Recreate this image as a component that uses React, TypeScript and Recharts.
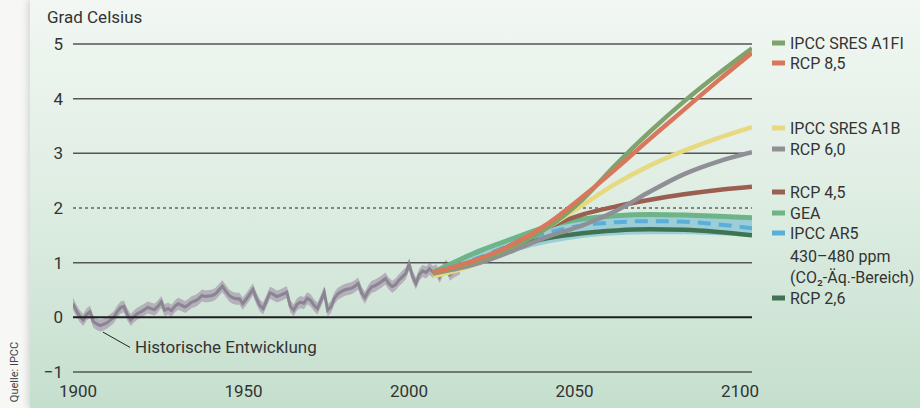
import { Area, ComposedChart, Line, ReferenceLine, XAxis, YAxis } from "recharts";

// Temperaturabweichung, Grad Celsius
const HIST_START = 1900;
const HIST_VALUES = [
  0.25, 0.12, 0.02, -0.05, 0.05, 0.1, -0.08, -0.12, -0.15, -0.13,
  -0.1, -0.05, 0.0, 0.1, 0.18, 0.2, 0.05, -0.05, 0.02, 0.07,
  0.1, 0.14, 0.18, 0.16, 0.14, 0.2, 0.28, 0.13, 0.16, 0.12,
  0.2, 0.25, 0.22, 0.19, 0.23, 0.28, 0.3, 0.34, 0.4, 0.38,
  0.39, 0.4, 0.43, 0.5, 0.57, 0.48, 0.4, 0.36, 0.34, 0.34,
  0.25, 0.33, 0.42, 0.51, 0.35, 0.22, 0.16, 0.3, 0.45, 0.42,
  0.38, 0.4, 0.43, 0.46, 0.2, 0.13, 0.24, 0.28, 0.26, 0.35,
  0.31, 0.22, 0.16, 0.3, 0.46, 0.13, 0.19, 0.35, 0.43, 0.47,
  0.5, 0.52, 0.53, 0.57, 0.62, 0.45, 0.36, 0.48, 0.56, 0.58,
  0.62, 0.66, 0.71, 0.62, 0.56, 0.6, 0.68, 0.74, 0.8, 0.97,
  0.75, 0.62, 0.78, 0.85, 0.82, 0.89, 0.83, 0.86, 0.74, 0.88,
  0.95, 0.78, 0.83, 0.86, 0.9,
];
const HIST_UNCERT = 0.11;

const SCEN_YEARS = [2006, 2020, 2030, 2040, 2050, 2060, 2070, 2080, 2090, 2100];
const A1FI = [0.8, 1.05, 1.3, 1.65, 2.15, 2.8, 3.4, 3.95, 4.45, 4.92];
const RCP85 = [0.82, 1.08, 1.35, 1.72, 2.2, 2.72, 3.27, 3.8, 4.33, 4.84];
const A1B = [0.75, 1.0, 1.3, 1.65, 2.05, 2.45, 2.78, 3.05, 3.28, 3.48];
const RCP60 = [0.8, 1.0, 1.23, 1.48, 1.68, 1.95, 2.3, 2.62, 2.85, 3.02];
const RCP45 = [0.8, 1.05, 1.35, 1.65, 1.88, 2.03, 2.15, 2.25, 2.33, 2.39];
const GEA = [0.82, 1.22, 1.45, 1.67, 1.8, 1.86, 1.88, 1.87, 1.85, 1.82];
const AR5 = [0.8, 1.1, 1.35, 1.55, 1.68, 1.74, 1.76, 1.75, 1.7, 1.63];
const AR5_LOW = [0.78, 1.0, 1.2, 1.35, 1.45, 1.5, 1.52, 1.52, 1.5, 1.48];
const AR5_HIGH = [0.85, 1.22, 1.48, 1.68, 1.82, 1.88, 1.9, 1.88, 1.85, 1.8];
const RCP26 = [0.8, 1.05, 1.3, 1.45, 1.54, 1.59, 1.61, 1.6, 1.56, 1.5];

const X_TICKS = [1900, 1950, 2000, 2050, 2100];
const Y_TICKS = [-1, 0, 1, 2, 3, 4, 5];
const SOLID_GRID = [-1, 1, 3, 4, 5];

const FONT = "Roboto, 'Liberation Sans', sans-serif";
const TEXT = "#333";
const PLOT_LEFT = 73;

const histData = HIST_VALUES.map((t, i) => ({ year: HIST_START + i, t }));
const scen = (vals: number[]) => SCEN_YEARS.map((year, i) => ({ year, v: vals[i] }));
const ar5Band = SCEN_YEARS.map((year, i) => ({ year, lo: AR5_LOW[i], hi: AR5_HIGH[i] }));

const legend = [
  { label: "IPCC SRES A1FI", color: "#7ea36c", y: 43 },
  { label: "RCP 8,5", color: "#d8775c", y: 63 },
  { label: "IPCC SRES A1B", color: "#e6d97f", y: 128 },
  { label: "RCP 6,0", color: "#8f8f96", y: 149 },
  { label: "RCP 4,5", color: "#9a5f50", y: 192 },
  { label: "GEA", color: "#6db488", y: 213 },
  { label: "IPCC AR5", color: "#5aafd8", y: 233 },
  { label: "430–480 ppm", color: null, y: 256 },
  { label: "(CO₂-Äq.-Bereich)", color: null, y: 277 },
  { label: "RCP 2,6", color: "#3f7452", y: 298 },
];

const lineProps = {
  type: "monotone" as const,
  dataKey: "v",
  dot: false,
  activeDot: false,
  strokeWidth: 4.5,
  isAnimationActive: false,
};

// year labels sit slightly inward of their gridline positions in the original
function YearTick(props: any) {
  const { x, y, payload } = props;
  const lx = 78 + (x - PLOT_LEFT) * 0.975;
  return (
    <text x={lx} y={y} dy={11} textAnchor="middle" fill={TEXT} fontSize={17} fontFamily={FONT}>
      {payload.value}
    </text>
  );
}

export default function App() {
  return (
    <div
      style={{
        position: "absolute",
        left: 0,
        top: 0,
        width: 920,
        height: 408,
        background: "#f7f7f6",
        fontFamily: FONT,
        overflow: "hidden",
      }}
    >
      <div
        style={{
          position: "absolute",
          left: 30,
          top: 0,
          width: 890,
          height: 408,
          background: "linear-gradient(to bottom, #f2f7f3 0%, #e0eee4 45%, #c5dfce 100%)",
          boxShadow: "-3px 0 6px rgba(0,0,0,0.12)",
        }}
      />
      <div
        style={{
          position: "absolute",
          left: 14,
          top: 372,
          transform: "translate(-50%, -50%) rotate(-90deg)",
          fontSize: 11,
          color: "#444",
          whiteSpace: "nowrap",
        }}
      >
        Quelle: IPCC
      </div>
      <div style={{ position: "absolute", left: 47, top: 7, fontSize: 17, color: TEXT }}>
        Grad Celsius
      </div>

      <div style={{ position: "absolute", left: 0, top: 0 }}>
        <ComposedChart width={920} height={408} margin={{ top: 44, right: 168, bottom: 0, left: 0 }}>
          <XAxis
            type="number"
            dataKey="year"
            domain={[1900, 2100]}
            ticks={X_TICKS}
            allowDataOverflow
            axisLine={false}
            tickLine={false}
            tickSize={0}
            tickMargin={14}
            height={36}
            tick={<YearTick />}
          />
          <YAxis
            type="number"
            domain={[-1, 5]}
            ticks={Y_TICKS}
            allowDataOverflow
            axisLine={false}
            tickLine={false}
            tickSize={0}
            tickMargin={10}
            width={PLOT_LEFT}
            tickFormatter={(v: number) => (v < 0 ? `−${Math.abs(v)}` : `${v}`)}
            tick={{ fill: TEXT, fontSize: 17, fontFamily: FONT }}
          />
          {SOLID_GRID.map((v) => (
            <ReferenceLine key={v} y={v} stroke="#555" strokeWidth={1.5} />
          ))}
          <ReferenceLine y={2} stroke="#222" strokeWidth={1} strokeDasharray="3 3" />

          <Area
            data={histData}
            dataKey={(d: { t: number }) => [d.t - HIST_UNCERT, d.t + HIST_UNCERT]}
            type="linear"
            stroke="none"
            fill="#aea7b4"
            fillOpacity={0.85}
            isAnimationActive={false}
          />
          <Line
            data={histData}
            dataKey="t"
            type="linear"
            stroke="#8b8492"
            strokeWidth={3}
            dot={false}
            activeDot={false}
            isAnimationActive={false}
          />
          <ReferenceLine y={0} stroke="#1e1e1e" strokeWidth={2} />
          <ReferenceLine
            segment={[
              { x: 1908.8, y: -0.27 },
              { x: 1916.8, y: -0.55 },
            ]}
            stroke="#222"
            strokeWidth={1}
          />

          <Area
            data={ar5Band}
            dataKey={(d: { lo: number; hi: number }) => [d.lo, d.hi]}
            type="monotone"
            stroke="none"
            fill="#92c9d6"
            fillOpacity={0.85}
            isAnimationActive={false}
          />
          <Line data={scen(GEA)} stroke="#6db488" {...lineProps} strokeWidth={5} />
          <Line data={scen(RCP26)} stroke="#3f7452" {...lineProps} />
          <Line data={scen(AR5)} stroke="#5aafd8" {...lineProps} strokeDasharray="13 8" strokeWidth={4} />
          <Line data={scen(RCP45)} stroke="#9a5f50" {...lineProps} />
          <Line data={scen(A1B)} stroke="#e6d97f" {...lineProps} />
          <Line data={scen(RCP60)} stroke="#8f8f96" {...lineProps} />
          <Line data={scen(A1FI)} stroke="#7ea36c" {...lineProps} />
          <Line data={scen(RCP85)} stroke="#d8775c" {...lineProps} />
        </ComposedChart>
      </div>

      <div
        style={{
          position: "absolute",
          left: 135,
          top: 347,
          transform: "translateY(-50%)",
          fontSize: 17,
          color: TEXT,
          whiteSpace: "nowrap",
        }}
      >
        Historische Entwicklung
      </div>

      {legend.map((item) => (
        <div
          key={item.label}
          style={{
            position: "absolute",
            left: 772,
            top: item.y,
            transform: "translateY(-50%)",
            display: "flex",
            alignItems: "center",
            fontSize: 16,
            color: TEXT,
            whiteSpace: "nowrap",
          }}
        >
          <span
            style={{
              display: "inline-block",
              width: 13,
              height: 5,
              marginRight: 5,
              background: item.color ?? "transparent",
            }}
          />
          {item.label}
        </div>
      ))}
    </div>
  );
}
